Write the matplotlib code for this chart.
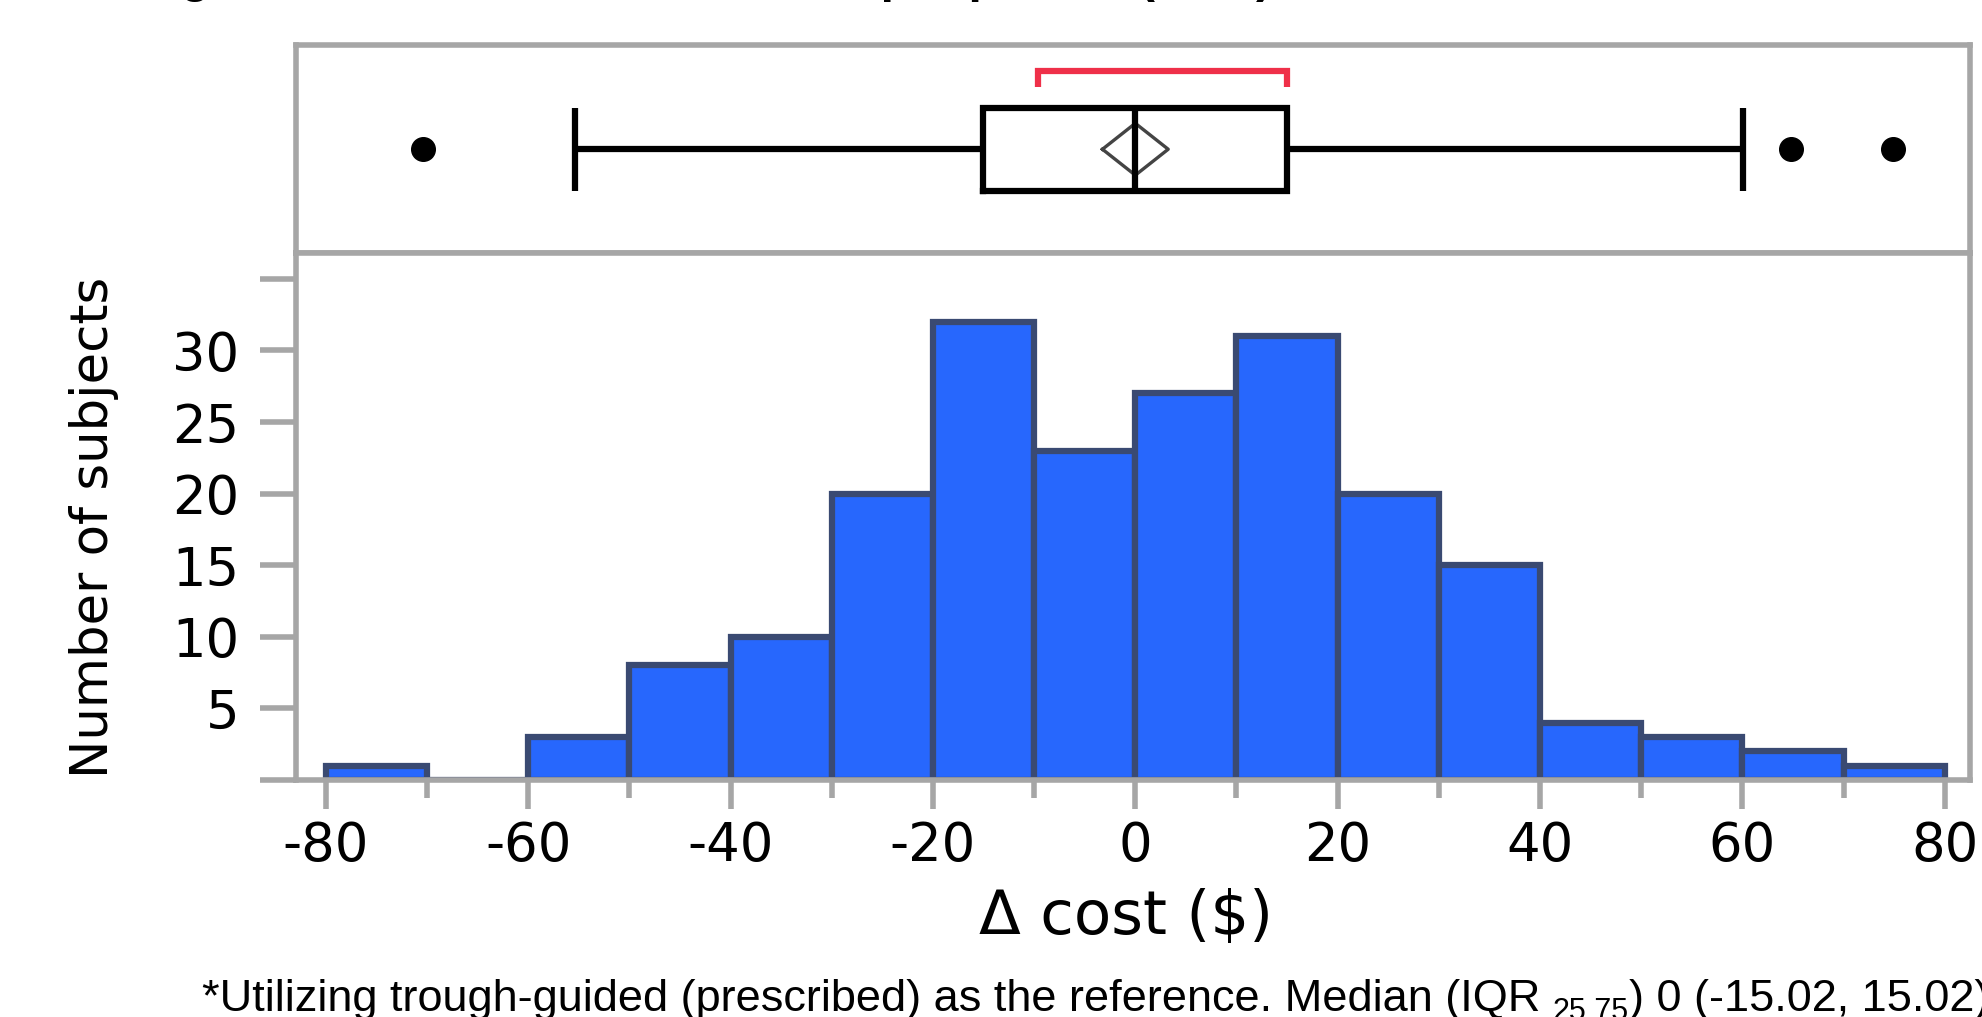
import numpy as np
import matplotlib.pyplot as plt
from matplotlib.ticker import MultipleLocator

# histogram of the cost difference, $10 bins
bin_edges = [-80, -70, -60, -50, -40, -30, -20, -10, 0, 10, 20, 30, 40, 50, 60, 70, 80]
counts = [1, 0, 3, 8, 10, 20, 32, 23, 27, 31, 20, 15, 4, 3, 2, 1]

# outlier box plot summary
q1, median, q3 = -15.02, 0.0, 15.02
whisker_lo, whisker_hi = -55.4, 60.1
outliers = [-70.4, 64.8, 74.9]
mean, mean_ci = 0.0, 3.25
shortest_half = [-9.6, 15.02]

x_ticks = [-80, -60, -40, -20, 0, 20, 40, 60, 80]
y_ticks = [0, 5, 10, 15, 20, 25, 30, 35]
y_ticklabels = ['', '5', '10', '15', '20', '25', '30', '']

title = "Figure 2. Difference in total cost per patient (USD)"
caption_main = "*Utilizing trough-guided (prescribed) as the reference. Median (IQR "
caption_sub = "25,75"
caption_end = ") 0 (-15.02, 15.02)"

plt.rcParams['font.family'] = 'DejaVu Sans'
plt.rcParams['axes.unicode_minus'] = False
grey = '#a6a6a6'
W, H = 1982, 1017

fig = plt.figure(figsize=(W / 100, H / 100), dpi=100)
ax_box = fig.add_axes([296 / W, 0.7512, 1674 / W, 0.2041])
ax = fig.add_axes([296 / W, 0.2330, 1674 / W, 0.5182], sharex=ax_box)

# histogram
ax.bar(bin_edges[:-1], counts, width=np.diff(bin_edges), align='edge',
       color='#2767fd', edgecolor='#3a4a72', linewidth=4.5, zorder=2)
ax.set_xlim(-82.96, 82.5)
ax.set_ylim(0, 36.8)
ax.set_xticks(x_ticks)
ax.xaxis.set_minor_locator(MultipleLocator(10))
ax.set_yticks(y_ticks, y_ticklabels)
ax.tick_params(axis='y', length=26, width=4, color=grey, pad=15, labelsize=38)
ax.tick_params(axis='x', which='major', length=21, width=4, color=grey, pad=8, labelsize=38)
ax.tick_params(axis='x', which='minor', length=13, width=4, color=grey)
for s in ax.spines.values():
    s.set_color(grey)
    s.set_linewidth(4)

ax.set_ylabel('Number of subjects', fontsize=37)
ax.yaxis.set_label_coords(-0.106, 0.48)
ax.set_xlabel('\u0394 cost ($)', fontsize=44)
ax.xaxis.set_label_coords(0.496, -0.205)

# box plot panel
stats = [dict(med=median, q1=q1, q3=q3, whislo=whisker_lo, whishi=whisker_hi,
              fliers=outliers, mean=mean)]
line = dict(color='black', linewidth=4.5, solid_capstyle='butt')
box_line = dict(color='black', linewidth=4.5, solid_capstyle='projecting',
                solid_joinstyle='miter')
ax_box.bxp(stats, positions=[0.5], widths=0.4, capwidths=0.4, orientation='horizontal',
           boxprops=box_line, whiskerprops=line, capprops=line, medianprops=line,
           flierprops=dict(marker='o', markerfacecolor='black', markeredgecolor='black',
                           markersize=17))
# means diamond
ax_box.plot([mean - mean_ci, mean, mean + mean_ci, mean, mean - mean_ci],
            [0.5, 0.625, 0.5, 0.375, 0.5], color='#444444', lw=2.4)
# shortest half bracket
lo, hi = shortest_half
ax_box.plot([lo, lo, hi, hi], [0.80, 0.877, 0.877, 0.80], color='#ef3049', lw=4.5,
            solid_joinstyle='miter', solid_capstyle='butt')
ax_box.set_ylim(0, 1)
ax_box.tick_params(bottom=False, left=False, labelbottom=False, labelleft=False)
for s in ax_box.spines.values():
    s.set_color(grey)
    s.set_linewidth(4)

# title, mostly cut off by the top edge
fig.text(138 / W, 1 + 8 / H, title, fontsize=34.5, fontweight='bold',
         family='Liberation Sans', va='baseline')

# caption with subscript
cap = dict(family=['Liberation Sans Narrow', 'Liberation Sans'], color='black')
t1 = fig.text(202 / W, 6 / H, caption_main, fontsize=32.5, va='baseline', **cap)
fig.canvas.draw()
x = t1.get_window_extent().x1
t2 = fig.text(x / W, -3 / H, caption_sub, fontsize=22, va='baseline', **cap)
fig.canvas.draw()
x = t2.get_window_extent().x1
fig.text(x / W, 6 / H, caption_end, fontsize=32.5, va='baseline', **cap)

fig.savefig('out.png', dpi=100)
